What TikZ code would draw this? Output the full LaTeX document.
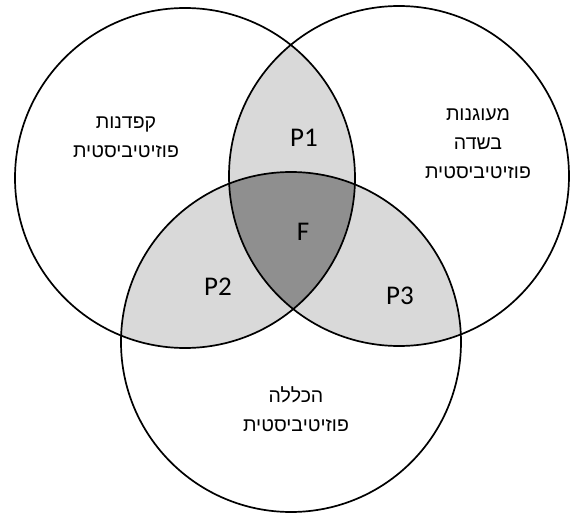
\documentclass[tikz,border=0pt]{standalone}
\usepackage{fontspec}
\setmainfont{Carlito}
\newfontfamily\hebfont[Script=Hebrew]{Liberation Sans}
\TeXXeTstate=1
\newcommand{\hebline}[1]{\beginR #1\endR}
\usetikzlibrary{positioning}

\begin{document}
\begin{tikzpicture}[
      x=1pt, y=1pt,
      ring/.style={line width=1.7pt},
      pairfill/.style={fill=black!15},
      corefill/.style={fill=black!44},
      tag/.style={font=\fontsize{27}{27}\selectfont, inner sep=0pt},
      heblabel/.style={font=\hebfont\fontsize{19.5}{29}\selectfont, align=center, inner sep=0pt}
    ]
    \useasboundingbox (0,0) rectangle (571,515);

    \coordinate (lft) at (185,337);
    \coordinate (rgt) at (399,339);
    \coordinate (bot) at (291,173);

    % pairwise overlaps
    \begin{scope}
      \clip (lft) circle (170);
      \fill[pairfill] (rgt) circle (170);
      \fill[pairfill] (bot) circle (170);
    \end{scope}
    \begin{scope}
      \clip (rgt) circle (170);
      \fill[pairfill] (bot) circle (170);
    \end{scope}
    % common core
    \begin{scope}
      \clip (lft) circle (170);
      \clip (rgt) circle (170);
      \fill[corefill] (bot) circle (170);
    \end{scope}

    \draw[ring] (lft) circle (170);
    \draw[ring] (rgt) circle (170);
    \draw[ring] (bot) circle (170);

    \node[heblabel] (strict) at (126,378) {\hebline{קפדנות}\\\hebline{פוזיטיביסטית}};
    \node[heblabel] (rooted) at (478,371) {\hebline{מעוגנות}\\\hebline{בשדה}\\\hebline{פוזיטיביסטית}};
    \node[heblabel] (general) at (296,106) {\hebline{הכללה}\\\hebline{פוזיטיביסטית}};

    \node[tag] (p1) at (304,377) {P1};
    \node[tag] (f) at (303,283) {F};
    \node[tag] (p2) at (218,228) {P2};
    \node[tag] (p3) at (400,219) {P3};
  \end{tikzpicture}
\end{document}
